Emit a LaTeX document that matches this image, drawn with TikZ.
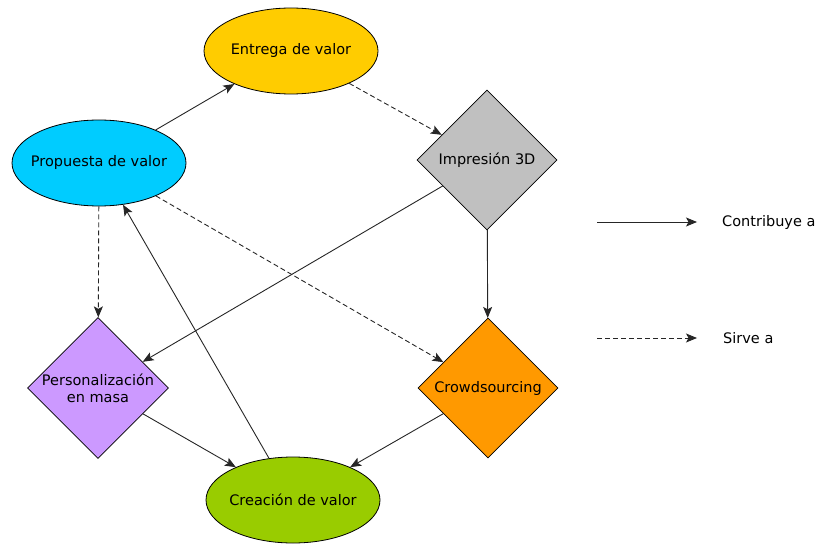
\documentclass[tikz,border=0pt]{standalone}
\usepackage{fontspec}
\setmainfont{DejaVu Sans}
\usetikzlibrary{shapes.geometric,arrows.meta}
\definecolor{cyellow}{HTML}{FFCC00}
\definecolor{ccyan}{HTML}{00CCFF}
\definecolor{cgray}{HTML}{C0C0C0}
\definecolor{corange}{HTML}{FF9900}
\definecolor{cpurple}{HTML}{CC99FF}
\definecolor{cgreen}{HTML}{99CC00}
\newcommand{\zw}[1]{\makebox[0pt][c]{#1}}
\begin{document}
\begin{tikzpicture}[x=1pt,y=-1pt,
  font=\fontsize{14.5}{17}\selectfont,
  ell/.style={ellipse,draw=black,line width=0.8pt,minimum width=174pt,minimum height=86pt,inner sep=0pt},
  dia/.style={diamond,draw=black,line width=0.8pt,minimum width=140pt,minimum height=140pt,inner sep=0pt,align=center},
  conn/.style={draw=black!85,line width=0.9pt,-{Stealth[length=11pt,width=9pt,inset=2.5pt]}},
  serve/.style={conn,dash pattern=on 5pt off 3pt},
  legtext/.style={anchor=west,inner sep=0pt}]
\useasboundingbox (0,0) rectangle (821,545);
\node[ell,fill=cyellow] (entrega) at (291,51) {\zw{Entrega de valor}};
\node[ell,fill=ccyan] (propuesta) at (99,163) {\zw{Propuesta de valor}};
\node[ell,fill=cgreen] (creacion) at (293,500) {\zw{Creación de valor}};
\node[dia,fill=cgray] (impresion) at (487,160) {Impresión 3D};
\node[dia,fill=corange] (crowd) at (488,388) {Crowdsourcing};
\node[dia,fill=cpurple] (perso) at (98,388) {Personalización\\en masa};

\draw[conn] (propuesta) -- (entrega);
\draw[serve] (entrega) -- (impresion);
\draw[serve] (propuesta) -- (perso);
\draw[serve] (propuesta) -- (crowd);
\draw[conn] (impresion) -- (perso);
\draw[conn] (impresion) -- (crowd);
\draw[conn] (perso) -- (creacion);
\draw[conn] (crowd) -- (creacion);
\draw[conn] (creacion) -- (propuesta);

\coordinate (l1a) at (597,222);
\coordinate (l1b) at (697,222);
\coordinate (l2a) at (597,338);
\coordinate (l2b) at (697,338);
\draw[conn] (l1a) -- (l1b);
\draw[serve] (l2a) -- (l2b);
\node[legtext] (leg1) at (722,222) {Contribuye a};
\node[legtext] (leg2) at (723,338) {Sirve a};
\end{tikzpicture}
\end{document}
